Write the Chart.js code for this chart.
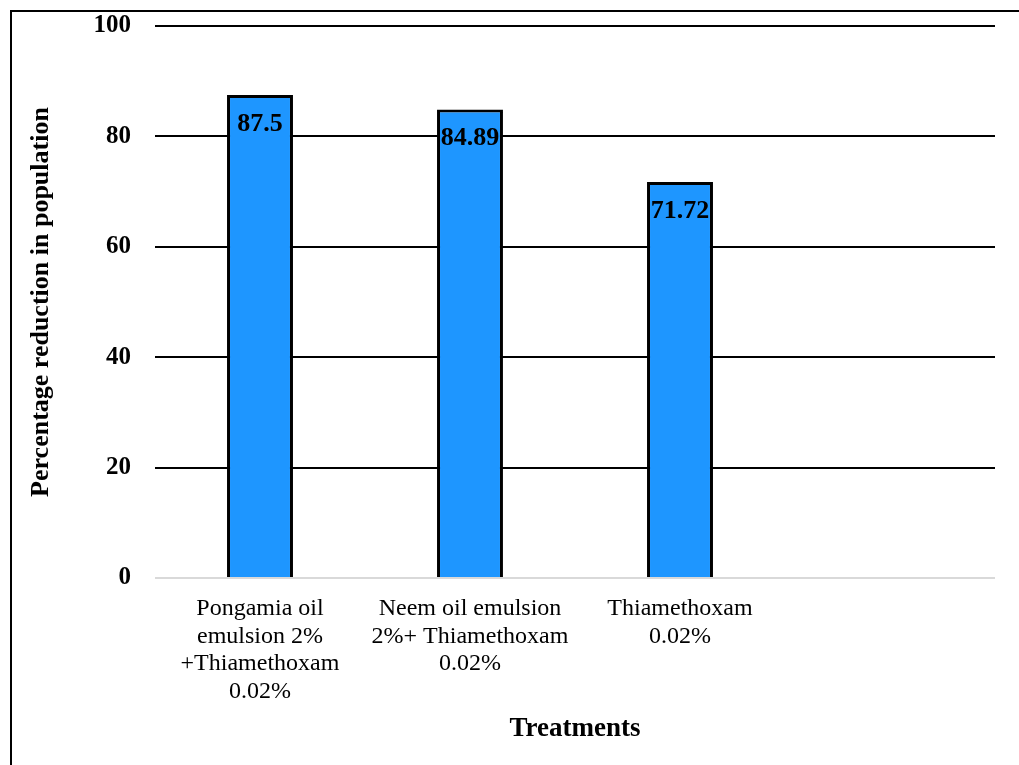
<!DOCTYPE html>
<html>
<head>
<meta charset="utf-8">
<script src="https://cdn.jsdelivr.net/npm/chart.js@4.4.0/dist/chart.umd.min.js"></script>
<style>
  html, body { margin: 0; padding: 0; background: #fff; }
  #wrap { position: relative; width: 1019px; height: 765px; }
  #frame { position: absolute; left: 10px; top: 10px; right: -5px; bottom: -5px; border-top: 2px solid #000; border-left: 2px solid #000; pointer-events: none; }
</style>
</head>
<body>
<div id="wrap">
  <canvas id="chart" width="1019" height="765"></canvas>
  <div id="frame"></div>
</div>
<script>
const categories = [
  ["Pongamia oil", "emulsion 2%", "+Thiamethoxam", "0.02%"],
  ["Neem oil emulsion", "2%+ Thiamethoxam", "0.02%"],
  ["Thiamethoxam", "0.02%"],
  ""
];
const reduction = [87.5, 84.89, 71.72, null];
const yTicks = [0, 20, 40, 60, 80, 100];

const serif = "'Liberation Serif', 'Times New Roman', serif";

// value labels drawn inside the top of each bar
const valueLabels = {
  id: "valueLabels",
  afterDatasetsDraw(chart) {
    const ctx = chart.ctx;
    const meta = chart.getDatasetMeta(0);
    ctx.save();
    ctx.font = "bold 26px " + serif;
    ctx.fillStyle = "#000";
    ctx.textAlign = "center";
    ctx.textBaseline = "middle";
    meta.data.forEach((bar, i) => {
      if (reduction[i] == null) return;
      ctx.fillText(String(reduction[i]), bar.x, bar.y + 29);
    });
    ctx.restore();
  }
};

const ctx = document.getElementById("chart").getContext("2d");
new Chart(ctx, {
  type: "bar",
  data: {
    labels: categories,
    datasets: [{
      data: reduction,
      backgroundColor: "#1E96FF",
      borderColor: "#000",
      borderWidth: 3,
      categoryPercentage: 1,
      barPercentage: 0.314
    }]
  },
  options: {
    responsive: false,
    animation: false,
    layout: { padding: { left: 12, right: 24, top: 0, bottom: 20 } },
    plugins: {
      legend: { display: false },
      tooltip: { enabled: false }
    },
    scales: {
      x: {
        afterFit(scale) {
          scale.height = 167;
          scale.paddingTop = 0;
        },
        grid: { display: false },
        border: { display: false },
        ticks: {
          color: "#000",
          font: { family: serif, size: 24, lineHeight: 1.15 },
          padding: 9,
          maxRotation: 0,
          autoSkip: false
        },
        title: {
          display: true,
          text: "Treatments",
          color: "#000",
          font: { family: serif, size: 27, weight: "bold" },
          padding: { top: 0, bottom: 0 }
        }
      },
      y: {
        min: 0,
        max: 100,
        afterBuildTicks(scale) {
          scale.ticks = yTicks.map(v => ({ value: v }));
        },
        afterFit(scale) {
          scale.width = 143;
          scale.paddingTop = 26;
          scale.paddingBottom = 0;
        },
        grid: {
          drawTicks: false,
          color: ctx => ctx.tick.value === 0 ? "#d9d9d9" : "#000",
          lineWidth: 2
        },
        border: { display: false },
        ticks: {
          color: "#000",
          font: { family: serif, size: 25, weight: "bold" },
          padding: 24
        },
        title: {
          display: true,
          text: "Percentage reduction in population",
          color: "#000",
          font: { family: serif, size: 26, weight: "bold" },
          padding: { top: 14, bottom: 0 }
        }
      }
    }
  },
  plugins: [valueLabels]
});
</script>
</body>
</html>
